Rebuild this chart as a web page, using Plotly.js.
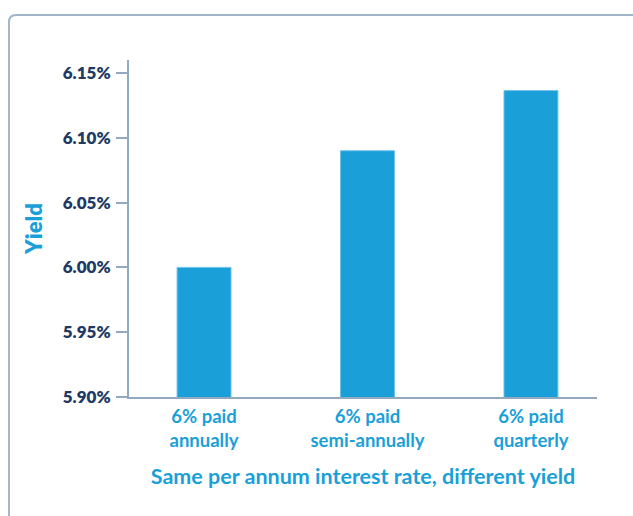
<!DOCTYPE html>
<html>
<head>
<meta charset="utf-8">
<script src="https://cdn.plot.ly/plotly-3.0.1.min.js"></script>
<style>
html,body{margin:0;padding:0;background:#fff;}
#chart{width:633px;height:516px;}
</style>
</head>
<body>
<div id="chart"></div>
<script>
const categories = ["6% paid<br>annually", "6% paid<br>semi-annually", "6% paid<br>quarterly"];
const yieldValues = [6.00, 6.09, 6.1364];
const yTickValues = [5.90, 5.95, 6.00, 6.05, 6.10, 6.15];
const yTickLabels = ["5.90%", "5.95%", "6.00%", "6.05%", "6.10%", "6.15%"];

const axisColor = "#93a9bf";
const blue = "#1a9fd9";
const navy = "#1f3a64";

const trace = {
  type: "bar",
  x: [0, 1, 2],
  y: yieldValues,
  width: 0.33,
  marker: {color: blue, line: {color: "#6fc3ea", width: 1}},
  hoverinfo: "skip"
};

// frame in paper coords (plot area: 468 x 337 px)
const pw = 468, ph = 337;
const fx = (px) => (px - 129) / pw;
const fy = (py) => (397 - py) / ph;
const L = fx(9), T = fy(15), R = fx(660), B = fy(560);
const rx = 7 / pw, ry = 7 / ph;
const framePath = `M ${L},${B} L ${L},${T - ry} Q ${L},${T} ${L + rx},${T} L ${R},${T}`;

const layout = {
  width: 633,
  height: 516,
  margin: {l: 129, r: 36, t: 60, b: 119},
  paper_bgcolor: "#fff",
  plot_bgcolor: "#fff",
  showlegend: false,
  bargap: 0.67,
  font: {family: "Lato, 'Open Sans', sans-serif"},
  xaxis: {
    range: [-0.459, 2.404],
    tickvals: [0, 1, 2],
    ticktext: categories,
    showline: true,
    linecolor: axisColor,
    linewidth: 2,
    ticks: "",
    showgrid: false,
    zeroline: false,
    ticklabelstandoff: 2,
    tickfont: {family: "Lato, sans-serif", size: 18.5, color: blue, weight: 700},
    title: {
      text: "Same per annum interest rate, different yield",
      font: {family: "Lato, sans-serif", size: 21.5, color: blue, weight: 700},
      standoff: 19
    }
  },
  yaxis: {
    range: [5.90, 6.16],
    tickvals: yTickValues,
    ticktext: yTickLabels,
    showline: true,
    linecolor: axisColor,
    linewidth: 2,
    ticks: "outside",
    ticklen: 11,
    tickwidth: 2,
    tickcolor: axisColor,
    showgrid: false,
    zeroline: false,
    tickfont: {family: "Lato, sans-serif", size: 17, color: navy, weight: 800},
    ticklabelstandoff: 2,
    title: {
      text: "Yield",
      font: {family: "Lato, sans-serif", size: 22, color: blue, weight: 800},
      standoff: 14
    }
  },
  shapes: [{
    type: "path",
    xref: "paper",
    yref: "paper",
    path: framePath,
    line: {color: "#a3b6c9", width: 2},
    layer: "below"
  }]
};

Plotly.newPlot("chart", [trace], layout, {displayModeBar: false, staticPlot: true});
</script>
</body>
</html>
